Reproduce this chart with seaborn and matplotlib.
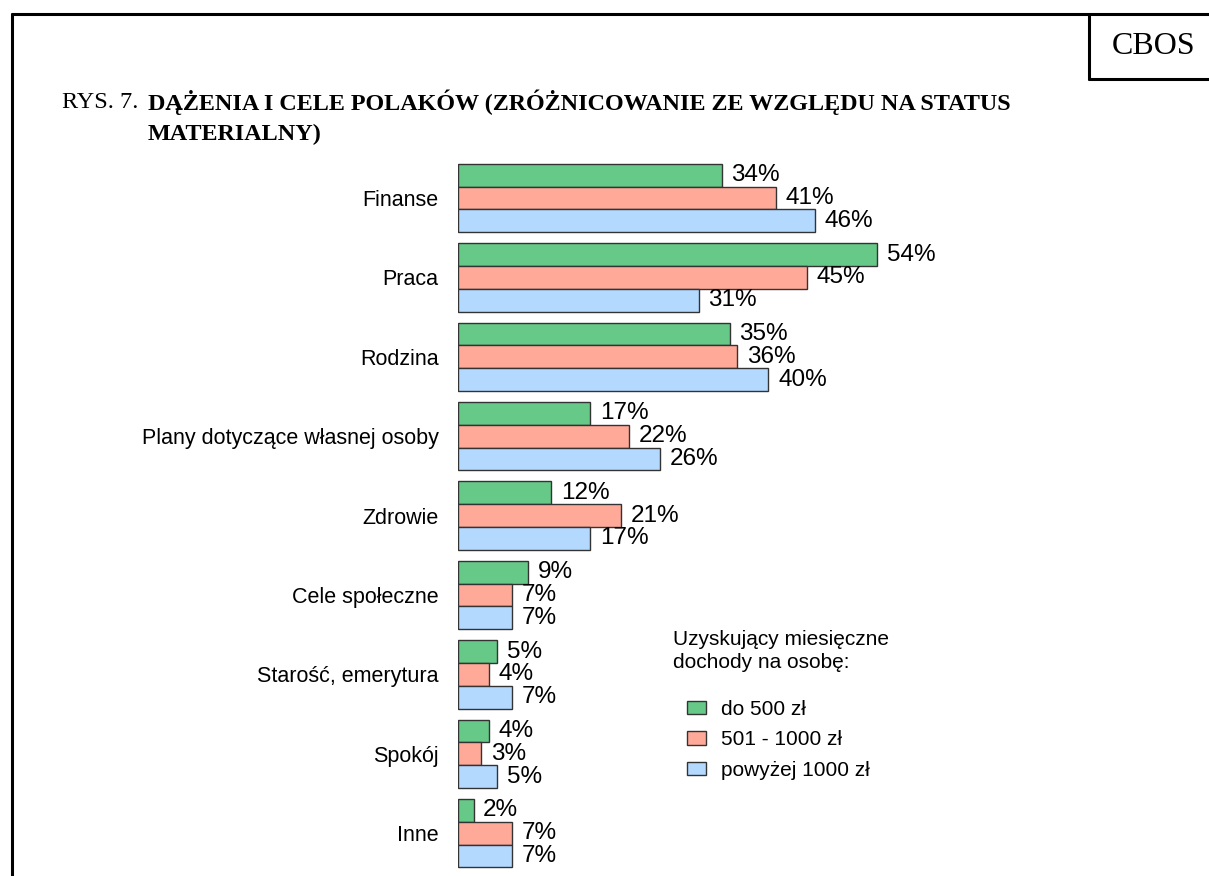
import matplotlib
matplotlib.use('Agg')
import matplotlib.pyplot as plt
import seaborn as sns
import pandas as pd
from matplotlib.lines import Line2D

# ── data ──
categories = ['Finanse', 'Praca', 'Rodzina', 'Plany dotyczące własnej osoby',
              'Zdrowie', 'Cele społeczne', 'Starość, emerytura', 'Spokój', 'Inne']
groups = ['do 500 zł', '501 - 1000 zł', 'powyżej 1000 zł']
low_income = [34, 54, 35, 17, 12, 9, 5, 4, 2]
mid_income = [41, 45, 36, 22, 21, 7, 4, 3, 7]
high_income = [46, 31, 40, 26, 17, 7, 7, 5, 7]
colors = ['#66C987', '#FFAA99', '#B3D9FF']

df = pd.DataFrame({
    'cat': categories * 3,
    'grp': [groups[0]] * 9 + [groups[1]] * 9 + [groups[2]] * 9,
    'val': low_income + mid_income + high_income,
})

W, H = 1209, 876
sns.set_style('white')
plt.rcParams['font.family'] = ['Liberation Sans', 'DejaVu Sans']
plt.rcParams['text.color'] = 'black'
plt.rcParams['ytick.color'] = 'black'
plt.rcParams['ytick.labelcolor'] = 'black'

fig = plt.figure(figsize=(W / 100, H / 100), dpi=100)

def fx(x):
    return x / W

def fy(y):
    return 1 - y / H

# axes placed so that bar 0 is at x=458px, 1% = 7.76px
ax_left, ax_right = 458, 1200
top_px, bot_px = 154.3, 872.9
ax = fig.add_axes([fx(ax_left), fy(bot_px), (ax_right - ax_left) / W, (bot_px - top_px) / H])

sns.barplot(data=df, x='val', y='cat', hue='grp', orient='h', palette=colors,
            width=0.86, edgecolor='#333333', linewidth=1.0, ax=ax, legend=False,
            saturation=1)

ax.set_xlim(0, (ax_right - ax_left) / 7.76)
ax.set_ylim(8.5, -0.55)
ax.set_xlabel('')
ax.set_ylabel('')
ax.set_xticks([])
sns.despine(ax=ax, left=True, bottom=True)
ax.tick_params(axis='y', length=0, pad=14, labelsize=15.5)

for cont in ax.containers:
    ax.bar_label(cont, fmt='%d%%', padding=7, fontsize=17.5, color='black')

# legend
fig.text(fx(673), fy(630), 'Uzyskujący miesięczne\ndochody na osobę:',
         fontsize=15, ha='left', va='top', linespacing=1.3)
handles = [plt.Rectangle((0, 0), 1, 1, facecolor=c, edgecolor='#333333', linewidth=1.0)
           for c in colors]
fig.legend(handles, groups, loc='upper left', bbox_to_anchor=(fx(687), fy(700)),
           frameon=False, fontsize=15, handlelength=0.92, handleheight=0.63,
           handletextpad=0.72, labelspacing=0.55, borderpad=0, borderaxespad=0,
           labelcolor='black')

# title
fig.text(fx(62), fy(102), 'RYS. 7.', family='Liberation Serif', fontsize=17.5,
         ha='left', va='center')
fig.text(fx(148), fy(102), 'DĄŻENIA I CELE POLAKÓW (ZRÓŻNICOWANIE ZE WZGLĘDU NA STATUS',
         family='Liberation Serif', fontsize=17.4, fontweight='bold', ha='left', va='center')
fig.text(fx(148), fy(134), 'MATERIALNY)',
         family='Liberation Serif', fontsize=17.4, fontweight='bold', ha='left', va='center')

# frame lines and CBOS box
lw = 2.2
fig.add_artist(Line2D([fx(12), fx(12)], [fy(14), fy(H)], color='black', lw=lw))
fig.add_artist(Line2D([fx(12), fx(W)], [fy(14), fy(14)], color='black', lw=lw))
fig.add_artist(Line2D([fx(1089), fx(1089)], [fy(14), fy(79)], color='black', lw=lw))
fig.add_artist(Line2D([fx(1089), fx(W)], [fy(79), fy(79)], color='black', lw=lw))
fig.text(fx(1154), fy(46), 'CBOS', family='Liberation Serif', fontsize=23,
         ha='center', va='center')

plt.savefig('out.png', dpi=100)
plt.close()
